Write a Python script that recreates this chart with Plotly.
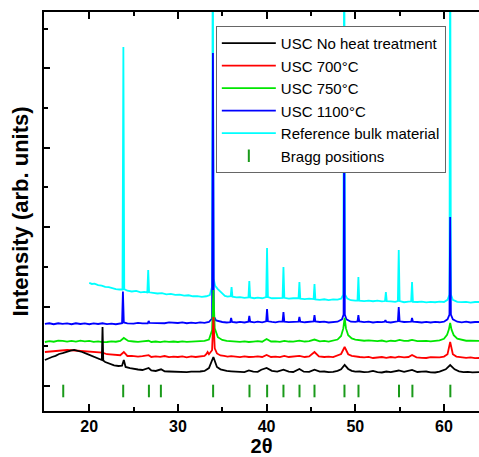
import plotly.graph_objects as go

# XRD patterns: 2-theta (deg) and intensity (arb. units), stacked with offsets
black_x = [15.0, 15.4, 15.8, 16.2, 16.6, 17.0, 17.5, 17.9, 18.3, 18.7, 19.2, 19.6, 20.0, 20.4, 20.8,
           21.2, 21.42, 21.5, 21.58, 21.8, 22.3, 22.8, 23.3, 23.7, 23.9, 24.1, 24.6, 25.0, 25.5, 26.0,
           26.7, 27.0, 27.5, 28.1, 28.5, 29.0, 29.5, 30.0, 30.5, 31.0, 31.5, 32.0, 32.5, 33.0, 33.5,
           34.0, 34.4, 34.8, 35.2, 35.5, 36.0, 36.5, 37.0, 37.5, 38.0, 38.5, 39.0, 39.4, 40.0, 40.6,
           41.2, 41.9, 42.5, 43.0, 43.7, 44.2, 44.8, 45.4, 46.0, 46.5, 47.0, 47.5, 48.0, 48.4, 48.8,
           49.2, 49.6, 50.0, 50.5, 51.0, 51.5, 52.0, 52.5, 53.0, 53.5, 54.0, 54.9, 55.5, 56.4, 57.0,
           57.5, 58.0, 58.5, 59.0, 59.5, 60.2, 60.7, 61.2, 61.7, 62.2, 62.7, 63.2, 64.0]
black_y = [655, 700, 730, 760, 806, 830, 870, 890, 907, 890, 856, 820, 781, 740, 705,
           670, 655, 1486, 640, 605, 560, 520, 504, 510, 655, 479, 450, 428, 415, 403,
           453, 395, 378, 420, 370, 365, 360, 353, 365, 350, 360, 353, 365, 378, 450,
           730, 480, 420, 390, 378, 370, 360, 365, 350, 390, 360, 355, 410, 453, 380,
           360, 410, 360, 353, 428, 360, 355, 410, 360, 365, 350, 353, 380, 420, 529,
           430, 380, 360, 365, 350, 355, 378, 350, 340, 365, 350, 390, 355, 403, 353,
           360, 365, 345, 340, 360, 420, 529, 420, 370, 350, 355, 345, 350]

red_x = [15.0, 15.5, 16.0, 16.5, 17.0, 17.5, 18.0, 18.5, 19.0, 19.5, 20.0, 20.5, 21.0, 21.5, 22.0,
         22.5, 23.0, 23.5, 23.9, 24.3, 24.8, 25.5, 26.0, 26.7, 27.0, 27.5, 28.0, 28.5, 29.0, 29.5,
         30.0, 30.5, 31.0, 31.5, 32.0, 32.5, 33.0, 33.2, 33.35, 33.5, 33.85, 34.0, 34.15, 34.4, 34.8,
         35.2, 35.6, 36.0, 36.5, 37.0, 37.5, 38.0, 38.5, 39.0, 39.5, 40.0, 40.5, 41.0, 41.5, 42.0,
         42.5, 43.0, 43.7, 44.3, 44.8, 45.4, 45.9, 46.5, 47.0, 47.5, 48.0, 48.4, 48.8, 49.2, 49.6,
         50.0, 50.5, 51.0, 51.5, 52.0, 52.5, 53.0, 53.5, 54.0, 54.5, 54.9, 55.5, 56.0, 56.4, 56.9,
         57.5, 58.0, 58.5, 59.0, 59.5, 60.0, 60.4, 60.7, 61.0, 61.4, 62.0, 62.5, 63.0, 63.5, 64.0]
red_y = [856, 870, 882, 895, 900, 907, 900, 890, 882, 870, 860, 845, 831, 840, 800,
         790, 781, 775, 856, 756, 760, 740, 750, 775, 730, 745, 735, 755, 725, 740,
         730, 745, 720, 745, 730, 740, 756, 800, 856, 800, 900, 1738, 950, 820, 770,
         756, 740, 750, 740, 725, 745, 730, 735, 745, 730, 781, 730, 740, 725, 756,
         730, 740, 760, 730, 745, 856, 745, 730, 740, 725, 760, 806, 982, 800, 760,
         740, 730, 720, 735, 705, 720, 730, 710, 730, 715, 740, 720, 730, 781, 720,
         710, 705, 725, 715, 720, 740, 800, 1108, 800, 740, 720, 710, 720, 700, 705]

green_x = [15.0, 15.5, 16.0, 16.5, 17.0, 17.5, 18.0, 18.5, 19.0, 19.5, 20.0, 20.5, 21.0, 21.5, 22.0,
           22.5, 23.0, 23.5, 23.9, 24.4, 25.0, 25.5, 26.0, 26.7, 27.0, 27.5, 28.0, 28.5, 29.0, 29.5,
           30.0, 30.5, 31.0, 31.5, 32.0, 32.5, 33.0, 33.5, 33.85, 34.0, 34.15, 34.5, 35.0, 35.5, 36.0,
           36.5, 37.0, 37.5, 38.0, 38.5, 39.0, 39.5, 40.0, 40.5, 41.0, 41.5, 42.0, 42.5, 43.0, 43.7,
           44.3, 44.8, 45.4, 46.0, 46.5, 47.0, 47.5, 48.0, 48.4, 48.65, 48.8, 48.95, 49.2, 49.6, 50.0,
           50.5, 51.0, 51.5, 52.0, 52.5, 53.0, 53.5, 54.0, 54.5, 55.0, 55.5, 56.0, 56.4, 57.0, 57.5,
           58.0, 58.5, 59.0, 59.5, 60.0, 60.35, 60.55, 60.7, 60.85, 61.1, 61.5, 62.0, 62.5, 63.0, 63.5,
           64.0]
green_y = [1108, 1130, 1115, 1140, 1134, 1120, 1135, 1120, 1140, 1125, 1134, 1110, 1125, 1105, 1108,
           1125, 1115, 1134, 1209, 1134, 1120, 1110, 1125, 1140, 1108, 1120, 1105, 1125, 1110, 1120,
           1108, 1125, 1110, 1120, 1115, 1125, 1135, 1170, 1400, 2418, 1450, 1230, 1160, 1134, 1125,
           1120, 1110, 1125, 1108, 1120, 1130, 1115, 1184, 1120, 1125, 1110, 1134, 1120, 1115, 1140,
           1120, 1130, 1170, 1125, 1134, 1120, 1140, 1170, 1260, 1450, 1713, 1450, 1280, 1200, 1170,
           1159, 1140, 1150, 1140, 1130, 1145, 1120, 1140, 1130, 1159, 1135, 1140, 1160, 1130, 1140,
           1134, 1125, 1140, 1150, 1190, 1290, 1420, 1587, 1420, 1280, 1190, 1159, 1140, 1145, 1130,
           1134]

blue_x = [15.0, 15.5, 16.0, 16.5, 17.0, 17.5, 18.0, 18.5, 19.0, 19.5, 20.0, 20.5, 21.0, 21.5, 22.0,
          22.5, 23.0, 23.5, 23.7, 23.8, 23.9, 24.3, 25.0, 25.5, 26.0, 26.6, 26.7, 26.8, 27.5, 28.0,
          28.5, 29.0, 29.5, 30.0, 30.5, 31.0, 31.5, 32.0, 32.5, 33.0, 33.5, 33.85, 33.95, 34.05, 34.3,
          34.7, 35.0, 35.5, 35.9, 36.0, 36.1, 36.6, 37.0, 37.5, 37.95, 38.05, 38.15, 38.6, 39.0, 39.5,
          39.95, 40.05, 40.15, 40.6, 41.0, 41.4, 41.8, 41.9, 42.0, 42.5, 43.0, 43.6, 43.7, 43.8, 44.3,
          44.8, 45.3, 45.4, 45.5, 46.0, 46.5, 47.0, 47.5, 48.0, 48.5, 48.68, 48.75, 48.82, 49.0, 49.5,
          50.0, 50.25, 50.35, 50.45, 51.0, 51.5, 52.0, 52.5, 53.0, 53.3, 53.4, 53.5, 54.0, 54.5, 54.8,
          54.9, 55.0, 55.5, 56.0, 56.3, 56.4, 56.5, 57.0, 57.5, 58.0, 58.5, 59.0, 59.5, 60.0, 60.4,
          60.62, 60.7, 60.78, 61.0, 61.5, 62.0, 62.5, 63.0, 63.5, 64.0]
blue_y = [1562, 1580, 1555, 1580, 1565, 1575, 1555, 1580, 1562, 1575, 1555, 1575, 1562, 1580, 1560,
          1570, 1555, 1575, 1580, 2380, 1600, 1575, 1570, 1590, 1575, 1580, 1637, 1590, 1587, 1600,
          1580, 1600, 1585, 1587, 1600, 1580, 1595, 1585, 1600, 1590, 1612, 1700, 8388, 1750, 1650,
          1620, 1612, 1600, 1610, 1713, 1615, 1600, 1615, 1600, 1620, 1763, 1620, 1605, 1620, 1605,
          1630, 1940, 1630, 1615, 1605, 1620, 1620, 1864, 1620, 1610, 1620, 1620, 1738, 1620, 1605,
          1620, 1625, 1788, 1625, 1612, 1620, 1600, 1615, 1620, 1680, 1800, 6700, 1800, 1680, 1620,
          1615, 1625, 1788, 1625, 1610, 1620, 1600, 1615, 1610, 1620, 1660, 1615, 1600, 1620, 1630,
          1990, 1630, 1612, 1620, 1620, 1713, 1620, 1612, 1600, 1615, 1600, 1615, 1605, 1620, 1680,
          1800, 4257, 1800, 1680, 1620, 1605, 1620, 1600, 1612, 1612]

cyan_x = [20.0, 20.3, 20.6, 21.0, 21.4, 21.8, 22.2, 22.6, 23.0, 23.4, 23.75, 23.85, 23.95, 24.3, 24.8,
          25.3, 25.8, 26.2, 26.55, 26.65, 26.75, 27.2, 27.7, 28.2, 28.7, 29.2, 29.7, 30.2, 30.7, 31.2,
          31.7, 32.2, 32.7, 33.2, 33.6, 33.85, 33.93, 34.03, 34.2, 34.5, 34.9, 35.3, 35.6, 35.95, 36.05,
          36.15, 36.6, 37.0, 37.5, 37.95, 38.05, 38.15, 38.6, 39.0, 39.5, 39.95, 40.05, 40.15, 40.6, 41.0,
          41.4, 41.8, 41.9, 42.0, 42.5, 43.0, 43.6, 43.7, 43.8, 44.3, 44.8, 45.3, 45.4, 45.5, 46.0,
          46.5, 47.0, 47.5, 48.0, 48.4, 48.65, 48.75, 48.85, 49.1, 49.5, 50.0, 50.25, 50.35, 50.45, 51.0,
          51.5, 52.0, 52.5, 53.0, 53.35, 53.45, 53.55, 54.0, 54.5, 54.8, 54.9, 55.0, 55.5, 56.0, 56.3,
          56.4, 56.5, 57.0, 57.5, 58.0, 58.5, 59.0, 59.5, 60.0, 60.4, 60.62, 60.7, 60.78, 61.0, 61.5,
          62.0, 62.5, 63.0, 63.5, 64.0]
cyan_y = [2595, 2570, 2580, 2540, 2530, 2495, 2490, 2460, 2440, 2430, 2430, 8539, 2440, 2400, 2380,
          2395, 2360, 2370, 2355, 2922, 2360, 2345, 2330, 2340, 2310, 2320, 2295, 2300, 2275, 2285,
          2260, 2265, 2245, 2260, 2290, 2500, 12000, 2700, 2520, 2440, 2350, 2270, 2250, 2260, 2494,
          2250, 2230, 2240, 2220, 2230, 2645, 2230, 2210, 2225, 2210, 2240, 3476, 2240, 2210, 2205,
          2215, 2220, 2998, 2220, 2200, 2210, 2210, 2620, 2200, 2190, 2200, 2190, 2569, 2180, 2170,
          2185, 2165, 2180, 2175, 2200, 2300, 12000, 2300, 2200, 2160, 2150, 2150, 2746, 2150, 2140,
          2150, 2135, 2150, 2130, 2140, 2368, 2135, 2130, 2120, 2140, 3426, 2140, 2110, 2125, 2130,
          2620, 2120, 2115, 2125, 2105, 2120, 2110, 2125, 2115, 2170, 2300, 12000, 2300, 2170, 2120,
          2110, 2120, 2100, 2115, 2116]

bragg_x = [17.07, 23.83, 26.73, 28.08, 33.97, 38.07, 40.06, 41.90, 43.71, 45.40,
           48.78, 50.36, 54.93, 56.44, 60.72]
bragg_level = -126

# drawn from back (reference) to front (as-prepared sample); legend lists them reversed
series = [
    ("Reference bulk material", cyan_x, cyan_y, "#00ffff"),
    ("USC 1100°C", blue_x, blue_y, "#0000ff"),
    ("USC 750°C", green_x, green_y, "#00e600"),
    ("USC 700°C", red_x, red_y, "#ff0000"),
    ("USC No heat treatment", black_x, black_y, "#000000"),
]

fig = go.Figure()
fig.add_trace(go.Scatter(
    x=bragg_x, y=[bragg_level] * len(bragg_x), mode="markers", name="Bragg positions",
    marker=dict(symbol="line-ns", size=9, line=dict(color="#1a9a1a", width=2)),
))
for name, xs, ys, col in series:
    fig.add_trace(go.Scatter(x=xs, y=ys, mode="lines", name=name,
                             line=dict(color=col, width=1.8)))

font_family = "Liberation Sans, Arial, sans-serif"

fig.update_layout(
    width=479, height=457,
    margin=dict(l=44, r=0, t=12, b=46),
    paper_bgcolor="white", plot_bgcolor="white",
    font=dict(family=font_family, color="black"),
    showlegend=True,
    legend=dict(
        x=0.395, y=0.965, xanchor="left", yanchor="top",
        bgcolor="white", bordercolor="#666666", borderwidth=1,
        font=dict(size=15, family=font_family),
        tracegroupgap=0, itemwidth=54, traceorder="reversed",
    ),
    xaxis=dict(
        range=[14.9, 63.95], showgrid=False, zeroline=False,
        showline=True, linecolor="black", linewidth=1.5, mirror="ticks",
        ticks="inside", ticklen=7, tickwidth=1.5, tickcolor="black",
        tickvals=[20, 30, 40, 50, 60],
        minor=dict(ticks="inside", ticklen=4, tickwidth=1.5, tickcolor="black",
                   tickvals=[15, 25, 35, 45, 55]),
        tickfont=dict(size=16, weight="bold", family=font_family),
        title=dict(text="2θ", font=dict(size=20, weight="bold", family=font_family),
                   standoff=7),
    ),
    yaxis=dict(
        range=[-630, 9420], showgrid=False, zeroline=False,
        showline=True, linecolor="black", linewidth=1.5,
        ticks="inside", ticklen=6, tickwidth=1.5, tickcolor="black",
        tickvals=[0, 2000, 4000, 6000, 8000], showticklabels=False,
        minor=dict(ticks="inside", ticklen=4, tickwidth=1.5, tickcolor="black",
                   tickvals=[1000, 3000, 5000, 7000, 9000]),
        title=dict(text="Intensity (arb. units)",
                   font=dict(size=22, weight="bold", family=font_family), standoff=8),
    ),
)

fig.write_html("out.html")
